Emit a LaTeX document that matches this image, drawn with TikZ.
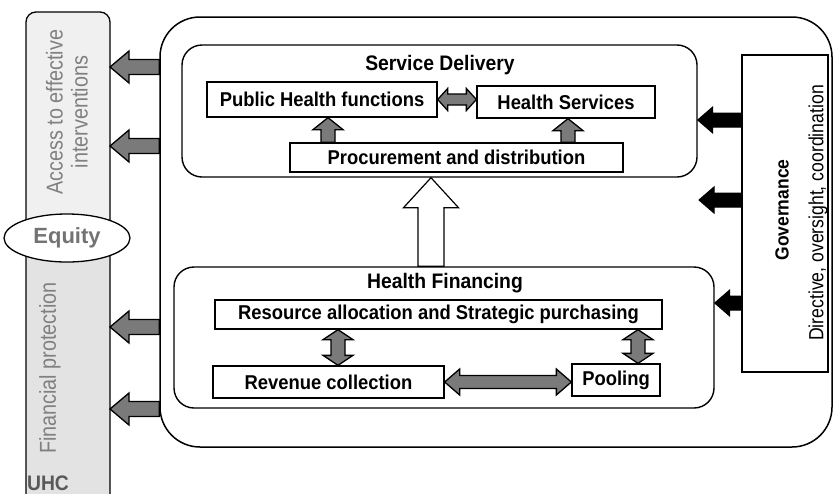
\documentclass[tikz,border=0pt]{standalone}
\usepackage{fontspec}
\setmainfont{Liberation Sans}
\newfontfamily\narrowfont[FakeStretch=0.86]{Liberation Sans}
\newfontfamily\condfont[FakeStretch=0.92]{Liberation Sans}
\usetikzlibrary{calc,shapes.geometric}

% horizontal block arrow: style, tail, tip, shaft half, head half, head length
\newcommand\harr[6]{%
\draw[#1] let \p1=(#2),\p2=(#3),\n1={sign(\x2-\x1)*#6} in
 (\x1,\y1+#4) -- (\x2-\n1,\y1+#4) -- (\x2-\n1,\y1+#5) -- (\x2,\y1) -- (\x2-\n1,\y1-#5) -- (\x2-\n1,\y1-#4) -- (\x1,\y1-#4) -- cycle;}
% vertical block arrow
\newcommand\varr[6]{%
\draw[#1] let \p1=(#2),\p2=(#3),\n1={sign(\y2-\y1)*#6} in
 (\x1+#4,\y1) -- (\x1+#4,\y2-\n1) -- (\x1+#5,\y2-\n1) -- (\x1,\y2) -- (\x1-#5,\y2-\n1) -- (\x1-#4,\y2-\n1) -- (\x1-#4,\y1) -- cycle;}
% horizontal double block arrow
\newcommand\hdarr[6]{%
\draw[#1] let \p1=(#2),\p2=(#3),\n1={sign(\x2-\x1)*#6} in
 (\x1,\y1) -- (\x1+\n1,\y1+#5) -- (\x1+\n1,\y1+#4) -- (\x2-\n1,\y1+#4) -- (\x2-\n1,\y1+#5) -- (\x2,\y1) -- (\x2-\n1,\y1-#5) -- (\x2-\n1,\y1-#4) -- (\x1+\n1,\y1-#4) -- (\x1+\n1,\y1-#5) -- cycle;}
% vertical double block arrow
\newcommand\vdarr[6]{%
\draw[#1] let \p1=(#2),\p2=(#3),\n1={sign(\y2-\y1)*#6} in
 (\x1,\y1) -- (\x1+#5,\y1+\n1) -- (\x1+#4,\y1+\n1) -- (\x1+#4,\y2-\n1) -- (\x1+#5,\y2-\n1) -- (\x1,\y2) -- (\x1-#5,\y2-\n1) -- (\x1-#4,\y2-\n1) -- (\x1-#4,\y1+\n1) -- (\x1-#5,\y1+\n1) -- cycle;}

\tikzset{
 box/.style={draw, line width=1.3pt, rectangle, inner sep=0pt, font=\fontsize{20}{22}\condfont\bfseries},
 panel/.style={draw, line width=1.4pt, rounded corners=20pt, inner sep=0pt},
 titletext/.style={font=\fontsize{21}{24}\condfont\bfseries},
 garrow/.style={draw, line width=1.3pt, fill=black!52, line join=miter},
 barrow/.style={draw, line width=1pt, fill=black},
 warrow/.style={draw, line width=1.2pt, fill=white, line join=miter},
 coltext/.style={text=black!50, font=\fontsize{23}{25}\narrowfont, align=center, rotate=90},
}

\begin{document}
\begin{tikzpicture}[x=1pt,y=-1pt]
\useasboundingbox (0,0) rectangle (837,493);
\fill[white] (0,0) rectangle (837,493);

% left UHC column
\fill[gray!12, rounded corners=10pt] (26,540) -- (26,12) -- (110,12) -- (110,540) -- cycle;
\fill[gray!22] (26,240) rectangle (110,540);
\draw[line width=1.3pt, rounded corners=10pt] (26,540) -- (26,12) -- (110,12) -- (110,540);
\coordinate (colE) at (110,0);
\node[coltext] (access) at (67,112) {Access to effective\\interventions};
\node[coltext] (finprot) at (50,368) {Financial protection};
\node[draw, ellipse, fill=white, line width=1.3pt, minimum width=126pt, minimum height=48pt,
      text=black!55, font=\fontsize{22}{24}\selectfont\bfseries] (equity) at (67,238) {Equity};
\node[anchor=base, text=black!65, font=\fontsize{21}{24}\condfont\bfseries] (uhc) at (48,490) {UHC};

% outer system box
\node[draw, line width=1.5pt, rounded corners=40pt, minimum width=672pt, minimum height=430pt, inner sep=0pt] (outer) at (496,232) {};

% service delivery
\node[panel, minimum width=515pt, minimum height=132pt] (sd) at (439.5,111) {};
\node[titletext] (sdt) at (440,65) {Service Delivery};
\node[box, minimum width=230pt, minimum height=35pt] (phf) at (322,99.5) {Public Health functions};
\node[box, minimum width=178pt, minimum height=32pt] (hs) at (566,102) {Health Services};
\node[box, minimum width=333pt, minimum height=29pt] (proc) at (456.5,157.5) {Procurement and distribution};

% health financing
\node[panel, minimum width=540pt, minimum height=141pt] (hf) at (444,337.5) {};
\node[titletext] (hft) at (445,283) {Health Financing};
\node[box, minimum width=447pt, minimum height=29pt] (res) at (438.5,314.5) {Resource allocation and Strategic purchasing};
\node[box, minimum width=231pt, minimum height=32pt] (rev) at (328.5,382) {Revenue collection};
\node[box, minimum width=88pt, minimum height=32pt] (pool) at (616,380) {Pooling};

% governance
\node[draw, line width=1.3pt, minimum width=86pt, minimum height=317pt, inner sep=0pt] (gov) at (785,213.5) {};
\node[rotate=90, font=\fontsize{19}{21}\condfont\bfseries] (govt) at (782,210) {Governance};
\node[rotate=90, font=\fontsize{20.5}{22}\narrowfont] (govd) at (818,213) {Directive, oversight, coordination};

% helper coordinates
\coordinate (xa) at (328,0);
\coordinate (xb) at (568,0);
\coordinate (xc) at (338,0);
\coordinate (xd) at (638,0);
\coordinate (xw) at (431,0);
\coordinate (ya) at (0,67);
\coordinate (yb) at (0,146);
\coordinate (yc) at (0,327);
\coordinate (yd) at (0,409);
\coordinate (ge) at (0,120);
\coordinate (gf) at (0,200);
\coordinate (gg) at (0,303);
\coordinate (gmid) at (699,200);

% service delivery arrows
\hdarr{garrow}{phf.east}{hs.west}{5.5}{11}{10}
\varr{garrow}{xa |- proc.north}{xa |- phf.south}{7}{15}{12}
\varr{garrow}{xb |- proc.north}{xb |- hs.south}{7}{15}{12}

% financing arrows
\vdarr{garrow}{xc |- res.south}{xc |- rev.north}{7}{15}{10}
\vdarr{garrow}{xd |- res.south}{xd |- pool.north}{7}{15}{10}
\hdarr{garrow}{rev.east}{pool.west}{6.5}{13}{15}

% financing -> service delivery
\varr{warrow}{xw |- hf.north}{xw |- sd.south}{13}{27.5}{30}

% governance arrows
\harr{barrow}{gov.west |- ge}{sd.east |- ge}{7}{13}{15}
\harr{barrow}{gov.west |- gf}{gmid}{7}{13}{15}
\harr{barrow}{gov.west |- gg}{hf.east |- gg}{7}{13}{15}

% outputs to UHC column
\harr{garrow}{outer.west |- ya}{colE |- ya}{7.5}{16}{19}
\harr{garrow}{outer.west |- yb}{colE |- yb}{7.5}{16}{19}
\harr{garrow}{outer.west |- yc}{colE |- yc}{7.5}{16}{19}
\harr{garrow}{outer.west |- yd}{colE |- yd}{7.5}{16}{19}
\end{tikzpicture}
\end{document}
